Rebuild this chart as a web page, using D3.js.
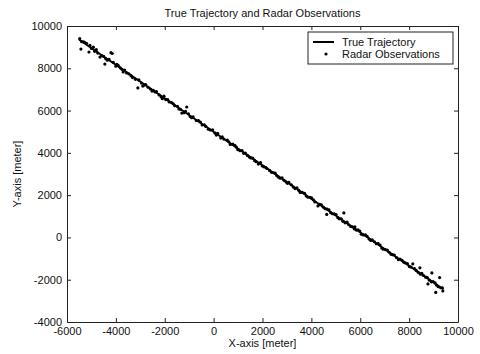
<!DOCTYPE html>
<html>
<head>
<meta charset="utf-8">
<script src="https://cdn.jsdelivr.net/npm/d3@7"></script>
<style>
  body { margin: 0; background: #fff; }
  svg { font-family: "Liberation Sans", Arial, sans-serif; }
</style>
</head>
<body>
<div id="chart"></div>
<script>
// true trajectory (straight line, start and end)
const trueX = [-5500, 9400];
const trueY = [9350, -2450];

// radar observations [x, y]
const obsPoints = [
  [-5480, 9400], [-5430, 8910], [-5330, 9250], [-5200, 9180], [-5100, 8770],
  [-5060, 9080], [-4920, 9000], [-4870, 8800], [-4740, 8720], [-4650, 8530],
  [-4580, 8600], [-4450, 8200], [-4420, 8460], [-4280, 8420], [-4200, 8740],
  [-4150, 8700], [-4110, 8280], [-4000, 8100], [-3960, 8190], [-3820, 8020],
  [-3700, 7830], [-3640, 7920], [-3560, 7780], [-3380, 7650], [-3320, 7560],
  [-3100, 7070], [-2900, 7160], [-3060, 7450], [-2950, 7300], [-2780, 7230],
  [-2680, 7100], [-2590, 7020], [-2470, 6960], [-2340, 6900], [-2230, 6740],
  [-2150, 6650], [-2030, 6680], [-1960, 6520], [-1820, 6410], [-1720, 6380],
  [-1590, 6230], [-1480, 6200], [-1300, 5880], [-1100, 6170], [-1360, 6060],
  [-1210, 5900], [-1030, 5850], [-960, 5720], [-840, 5700], [-710, 5530],
  [-540, 5460], [-470, 5320], [-320, 5250], [-140, 5080], [-40, 5090],
  [60, 4930], [170, 4920], [290, 4700], [420, 4650], [560, 4600],
  [680, 4400], [870, 4350], [990, 4150], [1160, 4110], [1300, 3990],
  [1460, 3800], [1600, 3750], [1740, 3580], [1920, 3540], [2060, 3340],
  [2180, 3260], [2370, 3080], [2520, 3040], [2640, 2860], [2800, 2820],
  [2960, 2630], [3080, 2600], [3260, 2380], [3410, 2340], [3540, 2130],
  [3720, 2090], [3860, 1900], [4010, 1870], [4140, 1680], [4270, 1490],
  [4410, 1540], [4630, 1090], [4560, 1360], [4720, 1300], [4860, 1120],
  [5010, 1080], [5140, 880], [5330, 1160], [5290, 760], [5460, 720],
  [5610, 520], [5780, 500], [5760, 400], [5910, 360], [6040, 150],
  [6210, 120], [6360, -80], [6490, -110], [6660, -300], [6810, -360],
  [6940, -560], [7110, -600], [7260, -800], [7390, -830], [7560, -1050],
  [7710, -1080], [7840, -1200], [8010, -1380], [8150, -1250], [8290, -1560],
  [8440, -1440], [8460, -1740], [8590, -1800], [8770, -2200], [8740, -1900],
  [8930, -1680], [8910, -2100], [9090, -2600], [9060, -2150], [9250, -1900],
  [9190, -2330], [9380, -2530], [9360, -2380],
  // second pass, points hugging the line
  [-5400, 9260], [-5280, 9230], [-5000, 8940], [-4800, 8880], [-4500, 8560],
  [-4350, 8380], [-3900, 8130], [-3750, 7950], [-3470, 7740], [-3200, 7480],
  [-2850, 7200], [-2520, 6920], [-2400, 6880], [-2100, 6560], [-1880, 6520],
  [-1650, 6320], [-1420, 6080], [-1150, 5960], [-900, 5660], [-620, 5520],
  [-380, 5330], [-220, 5120], [110, 4840], [350, 4760], [620, 4520],
  [780, 4410], [930, 4270], [1080, 4100], [1230, 3980], [1380, 3880],
  [1520, 3760], [1680, 3630], [1830, 3470], [1990, 3380], [2130, 3320],
  [2290, 3170], [2450, 3060], [2580, 2930], [2720, 2800], [2880, 2700],
  [3020, 2560], [3180, 2490], [3330, 2310], [3480, 2230], [3630, 2130],
  [3790, 1960], [3940, 1900], [4080, 1780], [4340, 1560], [4490, 1430],
  [4640, 1340], [4790, 1170], [4940, 1110], [5080, 940], [5220, 880],
  [5380, 690], [5530, 600], [5680, 500], [5840, 350], [5980, 300],
  [6120, 120], [6280, 50], [6430, -140], [6580, -210], [6730, -280],
  [6880, -500], [7030, -580], [7180, -700], [7330, -820], [7480, -950],
  [7630, -1020], [7780, -1170], [7930, -1240], [8080, -1400], [8220, -1480],
  [8370, -1650], [8520, -1700], [8680, -1880], [8830, -2020], [8980, -2090],
  [9130, -2260], [9290, -2380]
];

const xTicks = [-6000, -4000, -2000, 0, 2000, 4000, 6000, 8000, 10000];
const yTicks = [-4000, -2000, 0, 2000, 4000, 6000, 8000, 10000];

const W = 480, H = 354;
const margin = { top: 26, right: 22, bottom: 32, left: 67 };
const width = W - margin.left - margin.right;
const height = H - margin.top - margin.bottom;

const svg = d3.select('#chart').append('svg')
  .attr('width', W)
  .attr('height', H);

const g = svg.append('g')
  .attr('transform', `translate(${margin.left},${margin.top})`);

const x = d3.scaleLinear().domain([-6000, 10000]).range([0, width]);
const y = d3.scaleLinear().domain([-4000, 10000]).range([height, 0]);

const fmt = d => String(d); // plain hyphen, no thousands separator

// axes, ticks pointing inward like matlab
const styleAxis = sel => {
  sel.select('.domain').attr('stroke', '#222');
  sel.selectAll('.tick line').attr('stroke', '#222');
  sel.selectAll('.tick text').attr('fill', '#111').style('font-size', '11px');
};

g.append('g')
  .attr('transform', `translate(0,${height})`)
  .call(d3.axisBottom(x).tickValues(xTicks).tickFormat(fmt).tickSize(-4).tickPadding(5).tickSizeOuter(0))
  .call(styleAxis);

g.append('g')
  .call(d3.axisTop(x).tickValues(xTicks).tickSize(-4).tickFormat('').tickSizeOuter(0))
  .call(styleAxis);

g.append('g')
  .call(d3.axisLeft(y).tickValues(yTicks).tickFormat(fmt).tickSize(-4).tickPadding(5).tickSizeOuter(0))
  .call(styleAxis);

g.append('g')
  .attr('transform', `translate(${width},0)`)
  .call(d3.axisRight(y).tickValues(yTicks).tickSize(-4).tickFormat('').tickSizeOuter(0))
  .call(styleAxis);

// true trajectory
const line = d3.line().x(d => x(d[0])).y(d => y(d[1]));
g.append('path')
  .datum(trueX.map((v, i) => [v, trueY[i]]))
  .attr('d', line)
  .attr('fill', 'none')
  .attr('stroke', '#000')
  .attr('stroke-width', 2);

// radar observations
g.selectAll('.obs')
  .data(obsPoints)
  .enter()
  .append('circle')
  .attr('class', 'obs')
  .attr('cx', d => x(d[0]))
  .attr('cy', d => y(d[1]))
  .attr('r', 1.6)
  .attr('fill', '#000');

// title and axis labels
svg.append('text')
  .attr('x', margin.left + width / 2)
  .attr('y', 17)
  .attr('text-anchor', 'middle')
  .style('font-size', '11px')
  .attr('fill', '#111')
  .text('True Trajectory and Radar Observations');

svg.append('text')
  .attr('x', margin.left + width / 2)
  .attr('y', 347)
  .attr('text-anchor', 'middle')
  .style('font-size', '11px')
  .attr('fill', '#111')
  .text('X-axis [meter]');

svg.append('text')
  .attr('transform', `translate(21,${margin.top + height / 2}) rotate(-90)`)
  .attr('text-anchor', 'middle')
  .style('font-size', '11px')
  .attr('fill', '#111')
  .text('Y-axis [meter]');

// legend
const legend = svg.append('g').attr('transform', 'translate(308,32)');
legend.append('rect')
  .attr('width', 145)
  .attr('height', 32)
  .attr('fill', '#fff')
  .attr('stroke', '#222');
legend.append('line')
  .attr('x1', 5).attr('x2', 26)
  .attr('y1', 10).attr('y2', 10)
  .attr('stroke', '#000').attr('stroke-width', 2);
legend.append('circle')
  .attr('cx', 18).attr('cy', 22).attr('r', 1.6).attr('fill', '#000');
legend.append('text')
  .attr('x', 34).attr('y', 14)
  .style('font-size', '11px').attr('fill', '#111')
  .text('True Trajectory');
legend.append('text')
  .attr('x', 34).attr('y', 26)
  .style('font-size', '11px').attr('fill', '#111')
  .text('Radar Observations');
</script>
</body>
</html>
